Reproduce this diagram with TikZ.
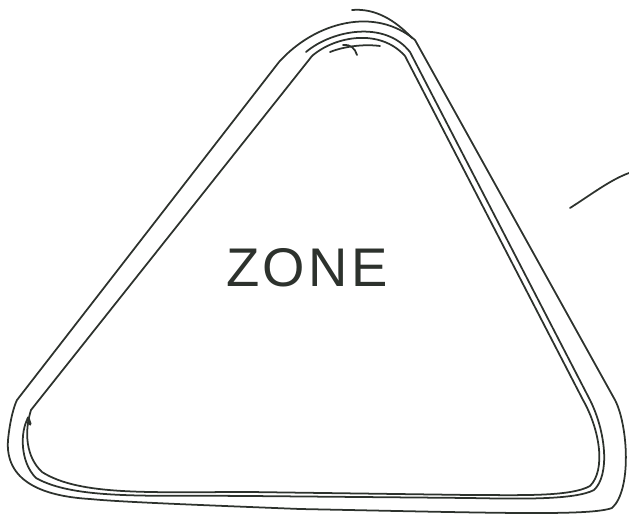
\documentclass[tikz,border=0pt]{standalone}
\usepackage{fontspec}
\usepackage{xcolor}
\newfontfamily\zonefont[LetterSpace=6]{Liberation Sans}
\definecolor{corTinta}{RGB}{45,50,45}

\begin{document}
\begin{tikzpicture}[x=0.02cm, y=-0.02cm, line cap=round, line join=round]
    \tikzstyle{pen}=[draw=corTinta, line width=1pt]
    \tikzstyle{rotulo}=[text=corTinta, font=\zonefont\fontsize{31}{36}\selectfont, inner sep=0pt]
    \useasboundingbox (0,0) rectangle (629,518);
    % outer loop
    \draw[pen] (279,62) .. controls (315,22) and (375,6) .. (415,40) -- (615,400)
      .. controls (628,425) and (632,490) .. (612,508)
      .. controls (590,516) and (500,513) .. (300,509)
      .. controls (200,505) and (120,502) .. (90,499)
      .. controls (40,496) and (5,480) .. (8,440)
      .. controls (10,420) and (14,406) .. (17,400) -- cycle;
    % inner loops
    \draw[pen] (312,56) .. controls (335,36) and (380,28) .. (405,56) -- (583,400)
      .. controls (600,430) and (606,470) .. (590,486)
      .. controls (570,497) and (520,495) .. (470,495) -- (250,492)
      .. controls (150,492) and (80,496) .. (42,472)
      .. controls (26,457) and (24,432) .. (31,410) -- cycle;
    \draw[pen] (306,52) .. controls (332,30) and (385,20) .. (410,52) -- (590,400)
      .. controls (606,432) and (610,475) .. (594,490)
      .. controls (575,500) and (520,499) .. (470,498) -- (250,496)
      .. controls (150,495) and (75,500) .. (36,478)
      .. controls (20,462) and (20,432) .. (28,418);
    \draw[pen, line width=1.8pt] (28,418) -- (30,424);
    % strokes at the apex
    \draw[pen] (352,10) .. controls (375,8) and (395,20) .. (412,38);
    \draw[pen] (343,45) .. controls (350,44) and (355,48) .. (357,55);
    \draw[pen] (330,52) .. controls (345,46) and (365,44) .. (380,46);
    % stroke at the right
    \draw[pen] (570,208) .. controls (592,194) and (610,180) .. (629,173);
    \node[rotulo] (zona) at (307,268) {ZONE};
\end{tikzpicture}
\end{document}
